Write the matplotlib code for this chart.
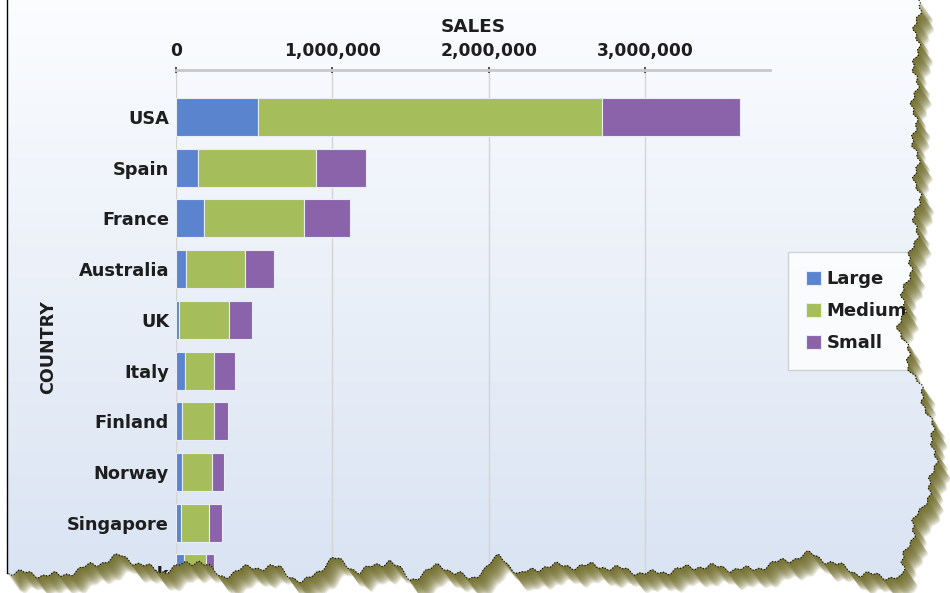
import matplotlib
matplotlib.use('Agg')
import matplotlib.pyplot as plt
import numpy as np
from matplotlib.patches import Polygon
from matplotlib.ticker import FuncFormatter

plt.rcParams['font.family'] = ['DejaVu Sans']
plt.rcParams['font.weight'] = 'bold'

countries = ['USA', 'Spain', 'France', 'Australia', 'UK', 'Italy',
             'Finland', 'Norway', 'Singapore', 'Denmark']
large = [526000, 141000, 180000, 61000, 22000, 58000, 39000, 40000, 35000, 50000]
medium = [2200000, 757000, 642000, 379000, 318000, 183000, 202000, 190000, 179000, 140000]
small = [885000, 316000, 288000, 190000, 145000, 137000, 89000, 80000, 79000, 55000]
series_names = ['Large', 'Medium', 'Small']
colors = ['#5b84cf', '#a5bd5a', '#8b63ab']

W, H = 950, 593
fig = plt.figure(figsize=(W / 100, H / 100), dpi=100)
fig.patch.set_facecolor('white')

# page background gradient
bg = fig.add_axes([0, 0, 1, 1], zorder=0)
grad = np.linspace(0, 1, 256).reshape(-1, 1)
top_c = np.array([0.985, 0.99, 1.0])
bot_c = np.array([0.85, 0.89, 0.95])
img = top_c + (bot_c - top_c) * grad[..., None]
bg.imshow(img, extent=[7, W, H, 0], aspect='auto')
bg.set_xlim(0, W)
bg.set_ylim(H, 0)
bg.axis('off')

# main chart
ax = fig.add_axes([176 / W, 0, 594 / W, 1 - 70 / H], zorder=1)
ax.set_facecolor('none')
y = np.arange(len(countries))
left = np.zeros(len(countries))
for vals, name, c in zip([large, medium, small], series_names, colors):
    ax.barh(y, vals, left=left, height=0.75, color=c, edgecolor='#e8ecf4',
            linewidth=0.8, label=name, zorder=3)
    left = left + np.array(vals)

ax.set_xlim(0, 3800000)
ax.set_ylim(9.39, -0.93)
ax.set_yticks(y)
ax.set_yticklabels(countries, fontsize=12.8, fontweight='bold', color='#1e1e1e')
ax.tick_params(axis='y', length=0, pad=5)

ax.xaxis.tick_top()
ax.xaxis.set_label_position('top')
ax.set_xticks([0, 1000000, 2000000, 3000000])
ax.xaxis.set_major_formatter(FuncFormatter(lambda v, p: f'{int(v):,}'))
ax.tick_params(axis='x', direction='inout', length=5, width=1.2, color='#333333',
               labelsize=12.3, pad=5, labelcolor='#1e1e1e')
ax.set_xlabel('SALES', fontsize=13.2, fontweight='bold', labelpad=7, color='#1e1e1e')
ax.set_ylabel('COUNTRY', fontsize=12.6, fontweight='bold', color='#1e1e1e')
ax.yaxis.set_label_coords(-0.2, 0.47)

ax.grid(axis='x', color='#d4d4d4', linewidth=1, zorder=0)
for s in ['left', 'right', 'bottom']:
    ax.spines[s].set_visible(False)
ax.spines['top'].set_color('#c8c8c8')
ax.spines['top'].set_linewidth(2)

leg = fig.legend(loc='upper left', bbox_to_anchor=(788 / W, 1 - 252 / H),
                 fontsize=13, frameon=True, fancybox=False, handlelength=0.8,
                 handleheight=0.8, handletextpad=0.35, labelspacing=0.78,
                 borderpad=1.0, borderaxespad=0)
leg.get_frame().set_edgecolor('#c8c8c8')
leg.get_frame().set_linewidth(1)
for t in leg.get_texts():
    t.set_color('#1e1e1e')

# torn page edge overlay
ov = fig.add_axes([0, 0, 1, 1], zorder=10)
ov.set_xlim(0, W)
ov.set_ylim(H, 0)
ov.axis('off')
ov.patch.set_alpha(0)

ry = np.linspace(0, 570, 300)
rx_base = np.interp(ry, [0, 120, 200, 245, 285, 325, 365, 405, 445, 485, 525, 570],
                    [918, 914, 918, 914, 906, 900, 910, 926, 935, 932, 914, 902])
rx = rx_base + 3 * np.sin(ry / 6.0) + 1.5 * np.sin(ry / 1.7 + 0.5)
bx = np.linspace(902, 7, 450)
by_base = np.interp(bx, [7, 60, 120, 160, 200, 220, 250, 280, 303, 333, 360, 390, 410,
                         440, 470, 500, 520, 545, 600, 650, 700, 750, 810, 860, 902],
                    [572, 576, 556, 572, 560, 577, 567, 568, 584, 558, 572, 560, 580,
                     565, 580, 556, 575, 566, 566, 574, 566, 570, 554, 574, 578])
by = by_base + 2.5 * np.sin(bx / 5.0) + 1.5 * np.sin(bx / 1.9 + 1.0)

page = np.vstack([[7, 0], np.column_stack([rx, ry]), np.column_stack([bx, by]), [7, by[-1]]])
edge = np.vstack([np.column_stack([rx, ry]), np.column_stack([bx, by])])
outside = np.vstack([[rx[0], 0], [W, 0], [W, H], [0, H], [0, 0], [7, 0], [7, by[-1]],
                     edge[::-1]])
out_patch = Polygon(outside, closed=True, facecolor='white', edgecolor='none')
ov.add_patch(out_patch)
# soft olive drop shadow: many thin shifted copies of the page shape
for d in np.arange(1, 19, 1.0):
    sh = Polygon(page + np.array([d * 0.7, d]), closed=True, facecolor='#6f6b28',
                 edgecolor='none', alpha=0.13)
    ov.add_patch(sh)
    sh.set_clip_path(out_patch)
ov.plot(edge[:, 0], edge[:, 1], color='black', linewidth=0.8, linestyle=':')
ov.plot([7, 7], [0, by[-1]], color='black', linewidth=1)

fig.savefig('out.png', dpi=100)
